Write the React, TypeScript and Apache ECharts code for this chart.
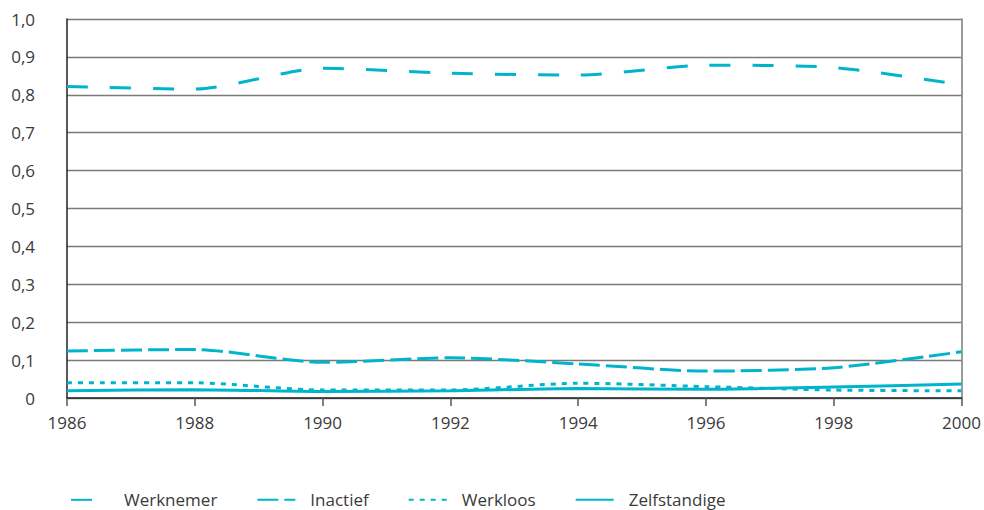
import React, { useEffect, useRef } from "react";
import * as echarts from "echarts";

const years = [1986, 1988, 1990, 1992, 1994, 1996, 1998, 2000];
const werknemer = [0.822, 0.815, 0.870, 0.857, 0.852, 0.878, 0.872, 0.826];
const inactief = [0.124, 0.128, 0.094, 0.106, 0.090, 0.071, 0.080, 0.122];
const werkloos = [0.040, 0.040, 0.021, 0.021, 0.039, 0.030, 0.021, 0.019];
const zelfstandige = [0.019, 0.022, 0.017, 0.019, 0.025, 0.023, 0.029, 0.037];

const seriesNames = ["Werknemer", "Inactief", "Werkloos", "Zelfstandige"];
const COLOR = "#00b4cc";
const FONT = "'Open Sans', 'Noto Sans', sans-serif";

export default function App() {
  const ref = useRef<HTMLDivElement>(null);

  useEffect(() => {
    if (!ref.current) return;
    const chart = echarts.init(ref.current, undefined, { renderer: "svg" });
    const pair = (arr: number[]) => years.map((y, i) => [y, arr[i]]);
    const dashes: any[] = [[21, 22], [21, 6], [5, 6], "solid"];
    const values = [werknemer, inactief, werkloos, zelfstandige];

    chart.setOption({
      animation: false,
      grid: { left: 67, right: 20, top: 19, bottom: 112, containLabel: false },
      legend: {
        left: 65,
        top: 486,
        itemWidth: 38,
        itemHeight: 22,
        itemGap: 39,
        data: seriesNames,
        itemStyle: { opacity: 0 },
        textStyle: {
          fontFamily: FONT,
          fontSize: 17,
          color: "#3a3a3a",
          padding: [0, 0, 0, 10],
        },
      },
      xAxis: {
        type: "value",
        min: 1986,
        max: 2000,
        interval: 2,
        axisLine: { show: true, lineStyle: { color: "#222", width: 1.5 } },
        axisTick: { show: true, length: 8, lineStyle: { color: "#555", width: 1.5 } },
        axisLabel: {
          formatter: (v: number) => String(v),
          fontFamily: FONT,
          fontSize: 17,
          color: "#3a3a3a",
          margin: 16,
        },
        splitLine: { show: false },
      },
      yAxis: [
        {
          type: "value",
          min: 0,
          max: 1,
          interval: 0.1,
          axisLine: { show: true, lineStyle: { color: "#222", width: 1.5 } },
          axisTick: { show: false },
          axisLabel: {
            formatter: (v: number) => (v === 0 ? "0" : v.toFixed(1).replace(".", ",")),
            fontFamily: FONT,
            fontSize: 17,
            color: "#3a3a3a",
            margin: 32,
          },
          splitLine: { show: true, lineStyle: { color: "#7a7a7a", width: 1.3 } },
        },
        {
          type: "value",
          min: 0,
          max: 1,
          interval: 0.1,
          position: "right",
          axisLine: { show: true, lineStyle: { color: "#7a7a7a", width: 1.5 } },
          axisTick: { show: false },
          axisLabel: { show: false },
          splitLine: { show: false },
        },
      ],
      series: seriesNames.map((name, i) => ({
        name,
        type: "line",
        data: pair(values[i]),
        smooth: 0.25,
        symbol: "none",
        color: COLOR,
        lineStyle: { color: COLOR, width: 3, type: dashes[i] },
      })),
    });

    return () => chart.dispose();
  }, []);

  return <div ref={ref} style={{ width: 984, height: 510, position: "absolute", left: 0, top: 0 }} />;
}
